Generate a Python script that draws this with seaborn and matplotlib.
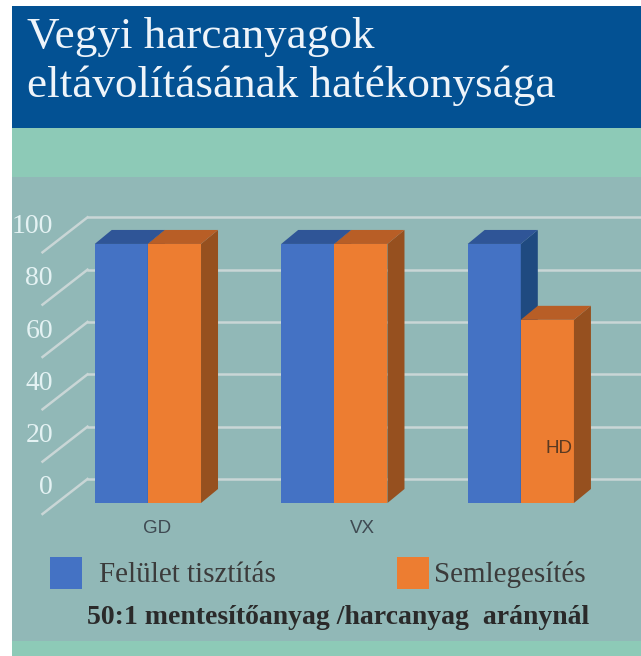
import pandas as pd
import matplotlib.pyplot as plt
import seaborn as sns
from matplotlib.patches import Rectangle, Polygon
from matplotlib.transforms import ScaledTranslation

# chart values
agents = ["GD", "VX", "HD"]
methods = ["Felület tisztítás", "Semlegesítés"]
surface_cleaning = [99, 99, 99]
neutralisation = [99, 99, 70]
y_ticks = [0, 20, 40, 60, 80, 100]

title_lines = ["Vegyi harcanyagok", "eltávolításának hatékonysága"]
subtitle = "50:1 mentesítőanyag /harcanyag  aránynál"

BLUE = "#4472C4"
ORANGE = "#ED7D31"
TOP = {BLUE: "#2F5597", ORANGE: "#B85E26"}
SIDE = {BLUE: "#1F4A80", ORANGE: "#96501F"}
GRID = "#C9D6D6"

W, H = 641, 656


def px(x0, y0, w, h):
    # pixel box (from top-left) -> figure fraction
    return [x0 / W, 1 - (y0 + h) / H, w / W, h / H]


def main():
    df = pd.DataFrame({
        "agent": agents * 2,
        "method": [methods[0]] * 3 + [methods[1]] * 3,
        "value": surface_cleaning + neutralisation,
    })

    fig = plt.figure(figsize=(W / 100, H / 100), dpi=100, facecolor="white")

    # background bands
    bands = [((12, 6, W - 12, 122), "#035193"),
             ((12, 128, W - 12, 49), "#8DCAB7"),
             ((12, 177, W - 12, 464), "#91B8B7"),
             ((12, 641, W - 12, 15), "#8DCAB7")]
    for (x0, y0, w, h), c in bands:
        b = px(x0, y0, w, h)
        fig.patches.append(Rectangle((b[0], b[1]), b[2], b[3], transform=fig.transFigure,
                                     facecolor=c, edgecolor="none", zorder=-5))

    for line, base in zip(title_lines, [48, 97]):
        fig.text(27 / W, 1 - base / H, line, family="Liberation Serif", fontsize=32.5,
                 color="#EEF4FA", ha="left", va="baseline")

    ax = fig.add_axes(px(36, 189, 606, 314))
    ax.set_facecolor("none")
    sns.barplot(data=df, x="agent", y="value", hue="method", palette=[BLUE, ORANGE],
                width=0.57, saturation=1, errorbar=None, legend=False, ax=ax)
    ax.set_xlim(-0.6, 2.65)
    ax.set_ylim(0, 120)
    for s in ax.spines.values():
        s.set_visible(False)
    ax.set_xlabel("")
    ax.set_ylabel("")

    # pixel -> data scale
    pxx = ax.bbox.width / 3.25
    pxy = ax.bbox.height / 120

    # back wall gridlines with slanted floor edges
    wall_x = -0.49
    for v in y_ticks:
        bx, by = wall_x + 31 / pxx, v + 24 / pxy
        ax.plot([bx, 2.65], [by, by], color=GRID, lw=1.8, zorder=1, clip_on=False)
        ax.plot([bx, wall_x - 14 / pxx], [by, v - 11 / pxy], color=GRID, lw=1.8,
                zorder=1, clip_on=False)

    # 3D extrusion of bars
    dx, dy = 17 / pxx, 14 / pxy
    bars = sorted([p for p in ax.patches if p.get_height() > 0], key=lambda p: p.get_x())
    for i, bar in enumerate(bars):
        z = 2 + i
        bar.set_zorder(z)
        bar.set_edgecolor("none")
        x0, w, h = bar.get_x(), bar.get_width(), bar.get_height()
        c = BLUE if abs(bar.get_facecolor()[2] - 0.77) < 0.05 else ORANGE
        top = [(x0, h), (x0 + w, h), (x0 + w + dx, h + dy), (x0 + dx, h + dy)]
        side = [(x0 + w, 0), (x0 + w, h), (x0 + w + dx, h + dy), (x0 + w + dx, dy)]
        ax.add_patch(Polygon(side, closed=True, facecolor=SIDE[c], edgecolor="none",
                             zorder=z + 0.5, clip_on=False))
        ax.add_patch(Polygon(top, closed=True, facecolor=TOP[c], edgecolor="none",
                             zorder=z + 0.5, clip_on=False))

    # y tick labels on the back wall
    ax.set_yticks(y_ticks)
    ax.set_yticklabels([str(v) for v in y_ticks], family="Liberation Serif",
                       fontsize=20, color="#E4F2F3")
    ax.tick_params(axis="y", length=0, pad=0)
    for lab in ax.get_yticklabels():
        lab.set_transform(lab.get_transform() + ScaledTranslation(0.17, 0.18, fig.dpi_scale_trans))

    # category labels
    ax.set_xticks(range(len(agents)))
    ax.set_xticklabels(agents[:2] + [""], family="Liberation Sans", fontsize=13.5,
                       color="#3F4A52")
    ax.tick_params(axis="x", length=0, pad=12)
    for lab, shift in zip(ax.get_xticklabels(), [0.09, 0.28, 0]):
        lab.set_transform(lab.get_transform() + ScaledTranslation(shift, 0, fig.dpi_scale_trans))
    hd_bar = bars[-1]
    ax.text(hd_bar.get_x() + hd_bar.get_width() * 0.71, 21, agents[2],
            family="Liberation Sans", fontsize=13.5, color="#5A3A22",
            ha="center", va="center", zorder=20)

    # legend
    for (x0, c), name in zip([(50, BLUE), (397, ORANGE)], methods):
        b = px(x0, 557, 32, 32)
        fig.patches.append(Rectangle((b[0], b[1]), b[2], b[3], transform=fig.transFigure,
                                     facecolor=c, edgecolor="none", zorder=3))
    fig.text(99 / W, 1 - 575 / H, methods[0], family="Liberation Serif", fontsize=21,
             color="#3B3B3B", ha="left", va="center")
    fig.text(434 / W, 1 - 575 / H, methods[1], family="Liberation Serif", fontsize=21,
             color="#3B3B3B", ha="left", va="center")
    fig.text(87 / W, 1 - 618 / H, subtitle, family="Liberation Serif", fontsize=20,
             fontweight="semibold", color="#2A2A2A", ha="left", va="center")

    fig.savefig("out.png", dpi=100, facecolor="white")


if __name__ == "__main__":
    main()
